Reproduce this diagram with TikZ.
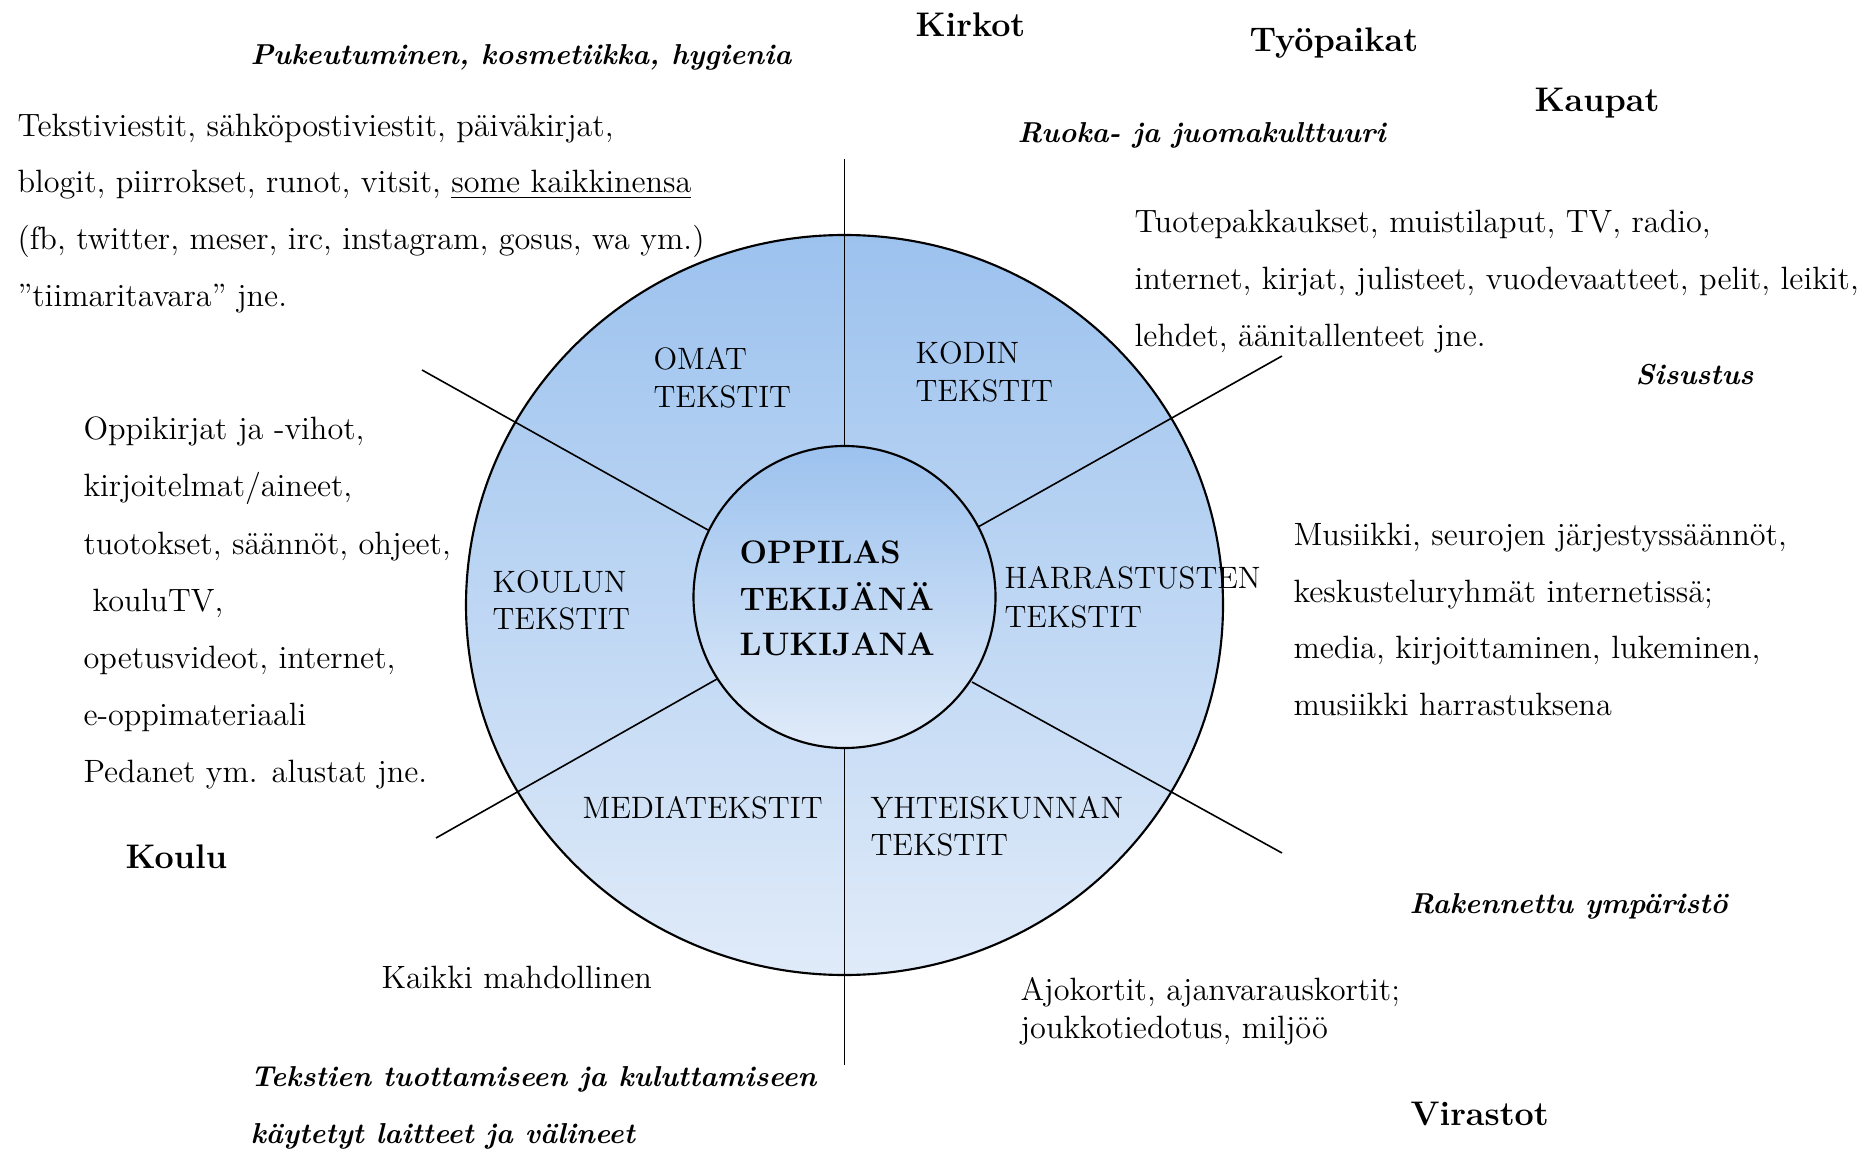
\documentclass[tikz,border=0pt]{standalone}
\usepackage{fontspec}
\definecolor{bluetop}{RGB}{156,194,238}
\definecolor{bluebot}{RGB}{224,235,249}
\begin{document}
\begin{tikzpicture}[x=0.375pt,y=-0.375pt,
  txt/.style={anchor=base west,inner sep=0pt,font=\fontsize{12.1}{14}\selectfont},
  caps/.style={anchor=base west,inner sep=0pt,font=\fontsize{11.6}{13}\selectfont},
  hd/.style={anchor=base west,inner sep=0pt,font=\fontsize{12.8}{15}\selectfont\bfseries},
  itb/.style={anchor=base west,inner sep=0pt,font=\fontsize{10.8}{13}\selectfont\bfseries\itshape},
  ctr/.style={anchor=base west,inner sep=0pt,font=\fontsize{12.2}{15}\selectfont\bfseries},
  spoke/.style={line width=0.6pt},
  ring/.style={draw,line width=0.8pt,top color=bluetop,bottom color=bluebot}]
\fill[white] (0,0) rectangle (1865,1154);
\useasboundingbox (0,0) rectangle (1865,1154);
% outer ring
\path[ring] (844.5,605) ellipse [x radius=378.5, y radius=370];
% spokes
\coordinate (vt) at (844.5,159);
\coordinate (vb) at (844.5,1065);
\coordinate (ulI) at (708,530);  \coordinate (ulO) at (422,370);
\coordinate (urI) at (978,527);  \coordinate (urO) at (1282,356);
\coordinate (lrI) at (972,682);  \coordinate (lrO) at (1282,853);
\coordinate (llI) at (717,679);  \coordinate (llO) at (436,838);
\draw[spoke] (vt) -- (vb);
\draw[spoke] (ulI) -- (ulO);
\draw[spoke] (urI) -- (urO);
\draw[spoke] (lrI) -- (lrO);
\draw[spoke] (llI) -- (llO);
% inner circle
\path[ring] (844.5,597) circle [radius=151];
% centre text
\node[ctr] (c1) at (739,563) {OPPILAS};
\node[ctr] (c2) at (739,610) {TEKIJÄNÄ};
\node[ctr] (c3) at (739,655) {LUKIJANA};
% sector labels
\node[caps] (om1) at (653,370) {OMAT};
\node[caps] (om2) at (653,408) {TEKSTIT};
\node[caps] (ko1) at (915,364) {KODIN};
\node[caps] (ko2) at (915,402) {TEKSTIT};
\node[caps] (kl1) at (492,592) {KOULUN};
\node[caps] (kl2) at (492,629) {TEKSTIT};
\node[caps] (ha1) at (1004,588) {HARRASTUSTEN};
\node[caps] (ha2) at (1004,627) {TEKSTIT};
\node[caps] (me1) at (582,818) {MEDIATEKSTIT};
\node[caps] (yh1) at (870,818) {YHTEISKUNNAN};
\node[caps] (yh2) at (870,855) {TEKSTIT};
% headings
\node[hd] (kirkot) at (915,37) {Kirkot};
\node[hd] (tyo) at (1249,52) {Työpaikat};
\node[hd] (kaupat) at (1534,112) {Kaupat};
\node[hd] (koulu) at (125,868) {Koulu};
\node[hd] (virastot) at (1410,1125) {Virastot};
% italic bold notes
\node[itb] (puk) at (250,65) {Pukeutuminen, kosmetiikka, hygienia};
\node[itb] (ruoka) at (1017,143) {Ruoka- ja juomakulttuuri};
\node[itb] (sis) at (1635,385) {Sisustus};
\node[itb] (rak) at (1409,913) {Rakennettu ympäristö};
\node[itb] (tek1) at (250,1086) {Tekstien tuottamiseen ja kuluttamiseen};
\node[itb] (tek2) at (250,1143) {käytetyt laitteet ja välineet};
% top-left block
\node[txt] (a1) at (17,137) {Tekstiviestit, sähköpostiviestit, päiväkirjat,};
\node[txt] (a2) at (17,193) {blogit, piirrokset, runot, vitsit, \underline{some kaikkinensa}};
\node[txt] (a3) at (17,250) {(fb, twitter, meser, irc, instagram, gosus, wa ym.)};
\node[txt] (a4) at (17,307) {”tiimaritavara” jne.};
% top-right block
\node[txt] (b1) at (1134,233) {Tuotepakkaukset, muistilaput, TV, radio,};
\node[txt] (b2) at (1134,290) {internet, kirjat, julisteet, vuodevaatteet, pelit, leikit,};
\node[txt] (b3) at (1134,347) {lehdet, äänitallenteet jne.};
% left block
\node[txt] (d1) at (83,440) {Oppikirjat ja -vihot,};
\node[txt] (d2) at (83,497) {kirjoitelmat/aineet,};
\node[txt] (d3) at (83,554) {tuotokset, säännöt, ohjeet,};
\node[txt] (d4) at (92,611) {kouluTV,};
\node[txt] (d5) at (83,668) {opetusvideot, internet,};
\node[txt] (d6) at (83,725) {e-oppimateriaali};
\node[txt] (d7) at (83,782) {Pedanet ym. alustat jne.};
% right block
\node[txt] (e1) at (1293,545) {Musiikki, seurojen järjestyssäännöt,};
\node[txt] (e2) at (1293,602) {keskusteluryhmät internetissä;};
\node[txt] (e3) at (1293,658) {media, kirjoittaminen, lukeminen,};
\node[txt] (e4) at (1293,715) {musiikki harrastuksena};
% bottom
\node[txt] (kaikki) at (381,988) {Kaikki mahdollinen};
\node[txt] (f1) at (1020,1000) {Ajokortit, ajanvarauskortit;};
\node[txt] (f2) at (1020,1038) {joukkotiedotus, miljöö};
\end{tikzpicture}
\end{document}
